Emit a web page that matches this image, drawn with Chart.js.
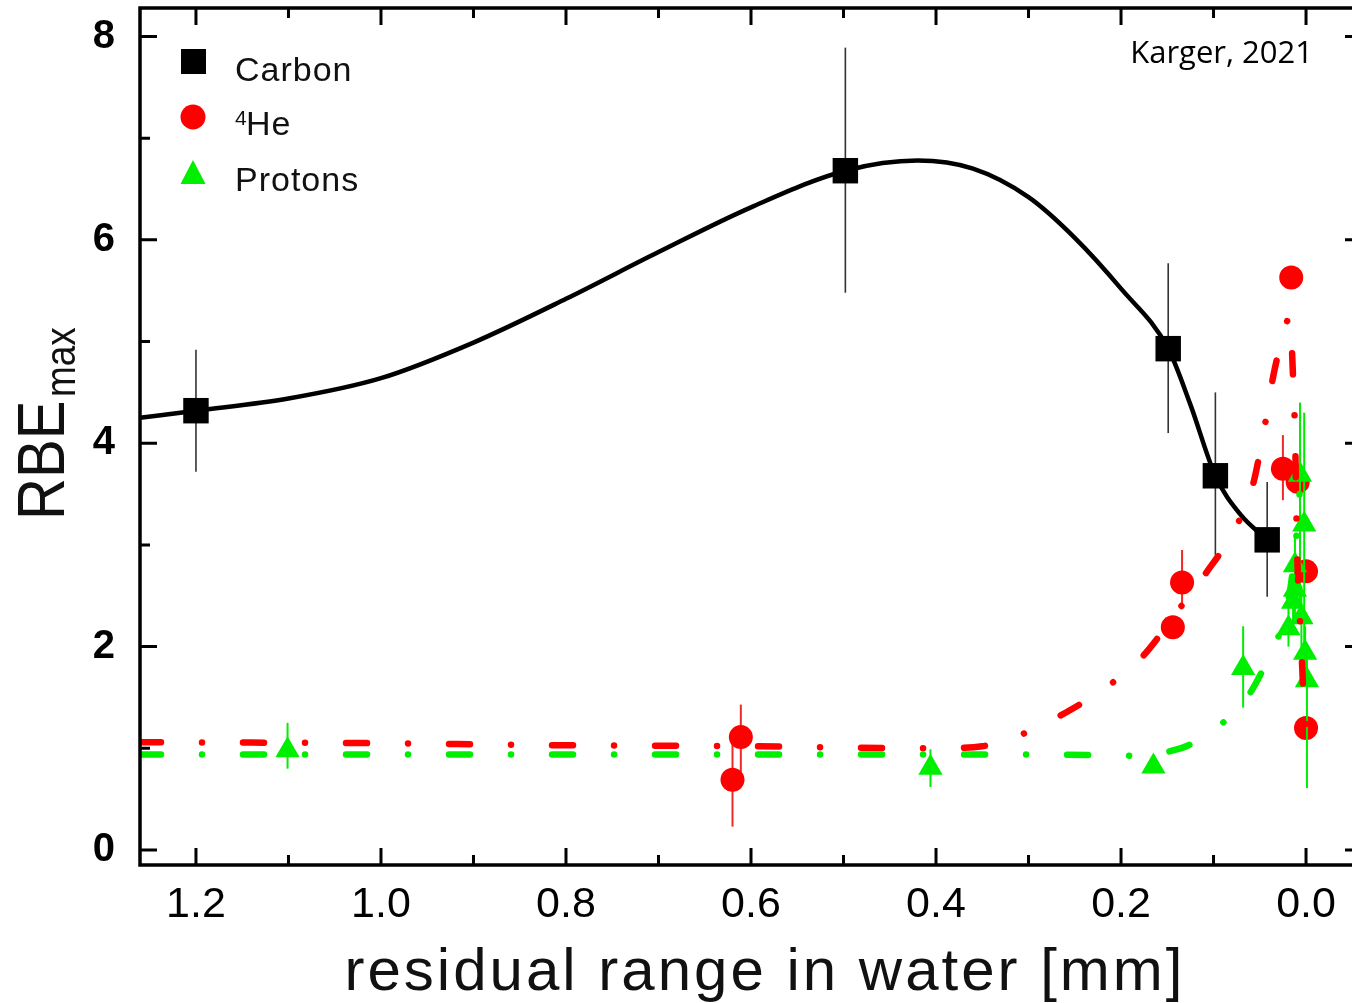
<!DOCTYPE html>
<html>
<head>
<meta charset="utf-8">
<title>RBEmax vs residual range</title>
<script src="https://cdn.jsdelivr.net/npm/chart.js@4.4.0/dist/chart.umd.min.js"></script>
<style>
  html, body { margin: 0; padding: 0; background: #fff; overflow: hidden; }
  #wrap { width: 1380px; height: 1003px; }
</style>
</head>
<body>
<div id="wrap"><canvas id="canvasRBE" width="1380" height="1003"></canvas></div>
<script>
// ---- data ----
// Carbon (black squares) with error bars
var carbonX  = [1.2, 0.498, 0.149, 0.098, 0.042];
var carbonY  = [4.32, 6.68, 4.93, 3.68, 3.05];
var carbonLo = [3.72, 5.48, 4.10, 2.90, 2.49];
var carbonHi = [4.92, 7.89, 5.77, 4.50, 3.62];

// 4He (red circles)
var heliumX  = [0.620, 0.611, 0.144, 0.134, 0.025, 0.016, 0.009, 0.0, 0.0];
var heliumY  = [0.69, 1.11, 2.19, 2.63, 3.75, 5.63, 3.62, 2.74, 1.20];
var heliumLo = [0.23, 0.76, null, 2.37, 3.44, null, null, null, null];
var heliumHi = [1.09, 1.43, null, 2.95, 4.08, null, null, null, null];

// Protons (green triangles)
var protonX  = [1.101, 0.406, 0.165, 0.068, 0.0065, 0.002, 0.012, 0.012, 0.014, 0.005, 0.019, 0.001, -0.001];
var protonY  = [0.98, 0.81, 0.82, 1.79, 3.69, 3.20, 2.80, 2.56, 2.44, 2.29, 2.18, 1.94, 1.67];
var protonLo = [0.80, 0.62, null, 1.40, 2.30, 2.00, 2.50, 2.30, 2.20, 2.00, 2.00, 1.70, 0.61];
var protonHi = [1.25, 0.99, null, 2.20, 4.40, 4.30, 3.10, 2.80, 2.70, 2.60, 2.40, 2.20, 1.90];

// fitted curves (traced)
var carbonCurveX = [1.2605, 1.2, 1.1, 1.0, 0.9, 0.8, 0.7, 0.6, 0.498, 0.42, 0.36, 0.3, 0.25, 0.2, 0.149, 0.125, 0.098, 0.071, 0.042];
var carbonCurveY = [4.25, 4.32, 4.44, 4.64, 4.99, 5.42, 5.88, 6.32, 6.68, 6.78, 6.70, 6.42, 6.02, 5.52, 4.93, 4.38, 3.68, 3.30, 3.05];

var heliumCurveX = [1.2605, 1.0, 0.8, 0.6, 0.4, 0.35, 0.309, 0.26, 0.213, 0.177, 0.138, 0.11, 0.075, 0.058, 0.045, 0.035, 0.0227, 0.018, 0.0162, 0.014, 0.0119, 0.010, 0.0086, 0.0055, 0.0032, 0.0];
var heliumCurveY = [1.06, 1.05, 1.03, 1.02, 1.0, 1.02, 1.13, 1.35, 1.62, 1.90, 2.36, 2.70, 3.19, 3.57, 4.15, 4.68, 5.13, 5.24, 5.10, 4.64, 4.10, 3.10, 2.63, 2.08, 1.61, 1.20];

var protonCurveX = [1.2605, 1.0, 0.8, 0.6, 0.4, 0.2, 0.17, 0.152, 0.127, 0.094, 0.063, 0.049, 0.032, 0.02, 0.011, 0.007];
var protonCurveY = [0.94, 0.94, 0.94, 0.94, 0.94, 0.93, 0.92, 0.96, 1.03, 1.22, 1.51, 1.73, 2.05, 2.40, 3.03, 3.50];

// axis ticks
var xTickVals  = [1.2, 1.0, 0.8, 0.6, 0.4, 0.2, 0.0];
var xMinorVals = [1.1, 0.9, 0.7, 0.5, 0.3, 0.1];
var yTickVals  = [0, 2, 4, 6, 8];
var yMinorVals = [1, 3, 5, 7];

var heColor = 'rgb(255,0,0)';
var pColor = 'rgb(0,238,0)';
var sans = '"Liberation Sans", Arial, sans-serif';

function pts(xs, ys) {
  var out = [];
  for (var i = 0; i < xs.length; i++) out.push({x: xs[i], y: ys[i]});
  return out;
}

// error bars are drawn just before each dataset's own markers
var errorBars = {
  id: 'errorBars',
  beforeDatasetDraw: function(chart, args) {
    var ds = chart.data.datasets[args.index];
    if (!ds.errLo) return;
    var ctx = chart.ctx, xs = chart.scales.x, ys = chart.scales.y;
    ctx.save();
    ctx.strokeStyle = ds.errColor;
    ctx.lineWidth = ds.errWidth;
    for (var i = 0; i < ds.data.length; i++) {
      if (ds.errLo[i] == null) continue;
      var px = xs.getPixelForValue(ds.data[i].x);
      ctx.beginPath();
      ctx.moveTo(px, ys.getPixelForValue(ds.errLo[i]));
      ctx.lineTo(px, ys.getPixelForValue(ds.errHi[i]));
      ctx.stroke();
    }
    ctx.restore();
  }
};

// frame with inward ticks on all four sides
var frameTicks = {
  id: 'frameTicks',
  afterDraw: function(chart) {
    var ctx = chart.ctx, a = chart.chartArea, xs = chart.scales.x, ys = chart.scales.y;
    ctx.save();
    ctx.strokeStyle = '#000';
    ctx.lineWidth = 3.5;
    ctx.strokeRect(a.left, a.top, a.right - a.left, a.bottom - a.top);
    ctx.lineWidth = 3;
    function tickX(vals, len) {
      vals.forEach(function(v) {
        var p = xs.getPixelForValue(v);
        ctx.beginPath();
        ctx.moveTo(p, a.bottom); ctx.lineTo(p, a.bottom - len);
        ctx.moveTo(p, a.top); ctx.lineTo(p, a.top + len);
        ctx.stroke();
      });
    }
    function tickY(vals, len) {
      vals.forEach(function(v) {
        var p = ys.getPixelForValue(v);
        ctx.beginPath();
        ctx.moveTo(a.left, p); ctx.lineTo(a.left + len, p);
        ctx.moveTo(a.right, p); ctx.lineTo(a.right - len, p);
        ctx.stroke();
      });
    }
    tickX(xTickVals, 17); tickX(xMinorVals, 10);
    tickY(yTickVals, 17); tickY(yMinorVals, 10);
    ctx.restore();
  }
};

// legend, axis titles and the citation
var labels = {
  id: 'labels',
  afterDraw: function(chart) {
    var ctx = chart.ctx;
    ctx.save();
    // legend markers
    ctx.fillStyle = '#000';
    ctx.fillRect(181, 49, 25, 25);
    ctx.fillStyle = heColor;
    ctx.beginPath(); ctx.arc(193, 117, 12.5, 0, 2 * Math.PI); ctx.fill();
    ctx.fillStyle = pColor;
    ctx.beginPath(); ctx.moveTo(193, 160); ctx.lineTo(205.5, 184); ctx.lineTo(180.5, 184); ctx.closePath(); ctx.fill();

    ctx.fillStyle = '#111';
    ctx.textAlign = 'left';
    ctx.textBaseline = 'alphabetic';
    ctx.letterSpacing = '1px';
    ctx.font = '34px ' + sans;
    ctx.fillText('Carbon', 235, 81);
    ctx.fillText('He', 246, 135);
    ctx.fillText('Protons', 235, 191);
    ctx.font = '21px ' + sans;
    ctx.fillText('4', 235, 125);

    // x title
    ctx.letterSpacing = '3px';
    ctx.font = '60px ' + sans;
    ctx.textAlign = 'center';
    ctx.fillText('residual range in water [mm]', 765, 990);

    // y title, rotated and slightly condensed
    ctx.save();
    ctx.translate(64, 520);
    ctx.rotate(-Math.PI / 2);
    ctx.scale(0.88, 1);
    ctx.textAlign = 'left';
    ctx.letterSpacing = '0px';
    ctx.font = '66px ' + sans;
    ctx.fillText('RBE', 0, 0);
    var w = ctx.measureText('RBE').width;
    ctx.font = '42px ' + sans;
    ctx.fillText('max', w + 4, 11);
    ctx.restore();

    // citation
    ctx.letterSpacing = '0px';
    ctx.font = '31px "Open Sans", "Liberation Sans", sans-serif';
    ctx.textAlign = 'right';
    ctx.fillStyle = '#000';
    ctx.fillText('Karger, 2021', 1313, 63);
    ctx.restore();
  }
};

var ctx = document.getElementById('canvasRBE').getContext('2d');
window.rbeChart = new Chart(ctx, {
  type: 'scatter',
  data: {
    datasets: [
      {
        label: 'Protons fit',
        data: pts(protonCurveX, protonCurveY),
        showLine: true, pointRadius: 0,
        borderColor: pColor, borderWidth: 6.5,
        borderDash: [21, 41, 0.01, 41],
        borderCapStyle: 'round', borderJoinStyle: 'round',
        cubicInterpolationMode: 'monotone',
        order: 1
      },
      {
        label: '4He fit',
        data: pts(heliumCurveX, heliumCurveY),
        showLine: true, pointRadius: 0,
        borderColor: heColor, borderWidth: 6.5,
        borderDash: [21, 41, 0.01, 41],
        borderCapStyle: 'round', borderJoinStyle: 'round',
        cubicInterpolationMode: 'monotone',
        order: 2
      },
      {
        label: 'Protons',
        data: pts(protonX, protonY),
        pointStyle: 'triangle', pointRadius: 14,
        backgroundColor: pColor, borderColor: pColor, borderWidth: 0,
        errLo: protonLo, errHi: protonHi, errColor: pColor, errWidth: 2,
        order: 3
      },
      {
        label: '4He',
        data: pts(heliumX, heliumY),
        pointStyle: 'circle', pointRadius: 12,
        backgroundColor: heColor, borderColor: heColor, borderWidth: 0,
        errLo: heliumLo, errHi: heliumHi, errColor: 'rgb(240,40,40)', errWidth: 2,
        order: 4
      },
      {
        label: 'Carbon',
        data: pts(carbonX, carbonY),
        pointStyle: 'rect', pointRadius: 18,
        backgroundColor: '#000', borderColor: '#000', borderWidth: 0,
        errLo: carbonLo, errHi: carbonHi, errColor: '#333', errWidth: 1.6,
        order: 5
      },
      {
        label: 'Carbon fit',
        data: pts(carbonCurveX, carbonCurveY),
        showLine: true, pointRadius: 0,
        borderColor: '#000', borderWidth: 4.5,
        cubicInterpolationMode: 'monotone',
        order: 6
      }
    ]
  },
  options: {
    responsive: false,
    animation: false,
    devicePixelRatio: 1,
    layout: { autoPadding: false, padding: { left: 0, right: 18, top: 8, bottom: 0 } },
    plugins: { legend: { display: false }, tooltip: { enabled: false } },
    scales: {
      x: {
        type: 'linear', reverse: true, min: -0.0605, max: 1.2605,
        grid: { display: false, drawTicks: false },
        border: { display: false },
        afterFit: function(s) { s.height = 138; s.paddingLeft = 0; s.paddingRight = 0; },
        afterBuildTicks: function(s) { s.ticks = xTickVals.map(function(v) { return {value: v}; }); },
        ticks: {
          padding: 14, color: '#000', maxRotation: 0, autoSkip: false,
          font: { family: sans, size: 43 },
          callback: function(v) { return Number(v).toFixed(1); }
        }
      },
      y: {
        type: 'linear', min: -0.1475, max: 8.28,
        grid: { display: false, drawTicks: false },
        border: { display: false },
        afterFit: function(s) { s.width = 140; s.paddingTop = 0; s.paddingBottom = 0; },
        afterBuildTicks: function(s) { s.ticks = yTickVals.map(function(v) { return {value: v}; }); },
        ticks: {
          padding: 25, color: '#000', autoSkip: false,
          font: { family: sans, size: 40, weight: 'bold' }
        }
      }
    }
  },
  plugins: [errorBars, frameTicks, labels]
});
</script>
</body>
</html>
